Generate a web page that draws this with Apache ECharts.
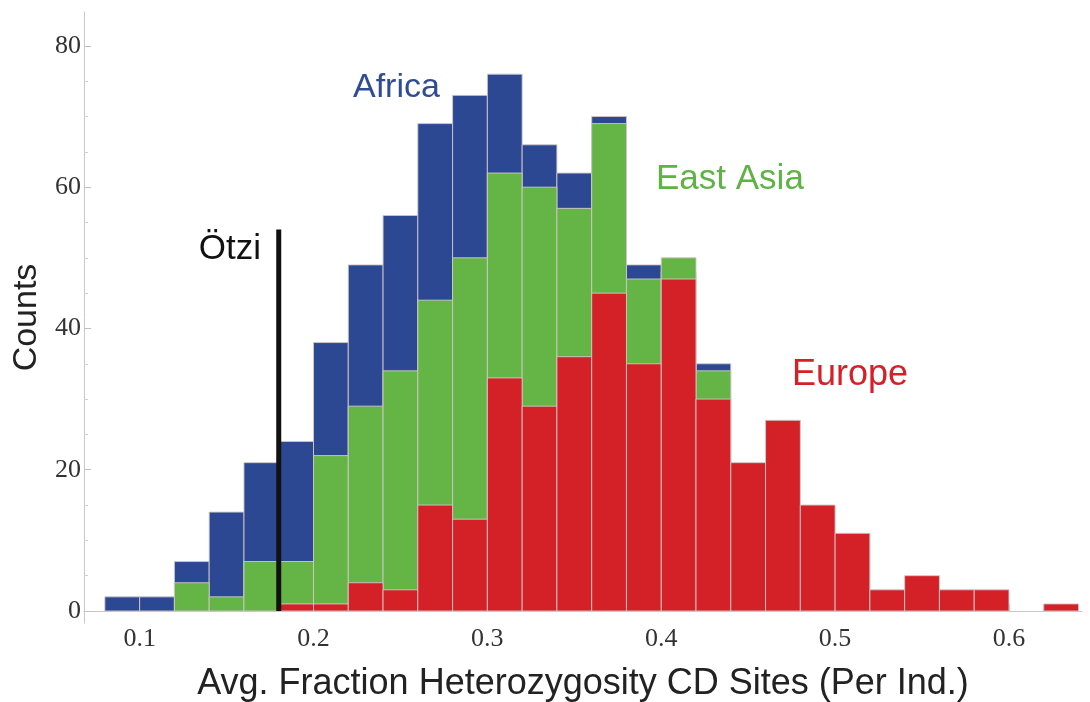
<!DOCTYPE html>
<html>
<head>
<meta charset="utf-8">
<script src="https://cdn.jsdelivr.net/npm/echarts@6/dist/echarts.min.js"></script>
<style>
  html, body { margin: 0; padding: 0; background: #fff; }
  #chart { width: 1090px; height: 702px; }
</style>
</head>
<body>
<div id="chart"></div>
<script>
// Histogram bins: left edges, width 0.02
const binStarts = [0.08, 0.10, 0.12, 0.14, 0.16, 0.18, 0.20, 0.22, 0.24, 0.26,
                   0.28, 0.30, 0.32, 0.34, 0.36, 0.38, 0.40, 0.42, 0.44, 0.46,
                   0.48, 0.50, 0.52, 0.54, 0.56, 0.58, 0.60, 0.62];
const binWidth = 0.02;

// Counts per bin for each population
const africa   = [2, 2, 7, 14, 21, 24, 38, 49, 56, 69, 73, 76, 66, 62, 70, 49, 48, 35,
                  0, 0, 0, 0, 0, 0, 0, 0, 0, 0];
const eastAsia = [0, 0, 4, 2, 7, 7, 22, 29, 34, 44, 50, 62, 60, 57, 69, 47, 50, 34,
                  0, 0, 0, 0, 0, 0, 0, 0, 0, 0];
const europe   = [0, 0, 0, 0, 0, 1, 1, 4, 3, 15, 13, 33, 29, 36, 45, 35, 47, 30,
                  21, 27, 15, 11, 3, 5, 3, 3, 0, 1];

// Ötzi's value
const otziX = 0.18;
const otziTop = 54;

const xTicks = [0.1, 0.2, 0.3, 0.4, 0.5, 0.6];
const xMinorTicks = [0.08, 0.12, 0.14, 0.16, 0.18, 0.22, 0.24, 0.26, 0.28, 0.32, 0.34, 0.36, 0.38,
                     0.42, 0.44, 0.46, 0.48, 0.52, 0.54, 0.56, 0.58, 0.62, 0.64];
const yTicks = [0, 20, 40, 60, 80];
const yMinorTicks = [5, 10, 15, 25, 30, 35, 45, 50, 55, 65, 70, 75];

const colors = { africa: '#2c4893', eastAsia: '#64b446', europe: '#d42128' };

function toBins(counts) {
  return binStarts.map((x0, i) => [x0, x0 + binWidth, counts[i]]);
}

function renderBin(params, api) {
  const v = api.value(2);
  if (!v) return null;
  const p0 = api.coord([api.value(0), v]);
  const p1 = api.coord([api.value(1), 0]);
  return {
    type: 'rect',
    shape: { x: p0[0], y: p0[1], width: p1[0] - p0[0], height: p1[1] - p0[1] },
    style: { fill: api.visual('color'), stroke: 'rgba(210,200,200,0.9)', lineWidth: 1 }
  };
}

const chart = echarts.init(document.getElementById('chart'));
const labelFont = '"Liberation Sans", Arial, sans-serif';
const tickFont = '"Liberation Serif", "Times New Roman", serif';

chart.setOption({
  animation: false,
  grid: { left: 84, right: 8, top: 12, bottom: 79, containLabel: false, outerBoundsMode: 'none' },
  xAxis: [{
    type: 'value', min: 0.068, max: 0.642,
    axisLine: { show: true, lineStyle: { color: '#c8c8c8', width: 1 } },
    axisTick: { show: true, inside: true, length: 7, lineStyle: { color: '#c0c0c0' }, customValues: xTicks },
    axisLabel: { customValues: xTicks, color: '#333', fontFamily: tickFont, fontSize: 26, margin: 3,
                 formatter: v => String(Math.round(v * 10) / 10) },
    splitLine: { show: false },
    name: 'Avg. Fraction Heterozygosity CD Sites (Per Ind.)',
    nameLocation: 'middle', nameGap: 43,
    nameTextStyle: { fontFamily: labelFont, fontSize: 36, color: '#222' }
  }, {
    type: 'value', min: 0.068, max: 0.642, position: 'bottom',
    axisLine: { show: false },
    axisTick: { show: true, inside: true, length: 4, lineStyle: { color: '#d0d0d0' }, customValues: xMinorTicks },
    axisLabel: { show: false },
    splitLine: { show: false }
  }],
  yAxis: [{
    type: 'value', min: -1.7, max: 84.8,
    axisLine: { show: true, lineStyle: { color: '#c8c8c8', width: 1 } },
    axisTick: { show: true, inside: true, length: 7, lineStyle: { color: '#c0c0c0' }, customValues: yTicks },
    axisLabel: { customValues: yTicks, color: '#333', fontFamily: tickFont, fontSize: 26, margin: 3 },
    splitLine: { show: false },
    name: 'Counts', nameLocation: 'middle', nameGap: 36, nameRotate: 90,
    nameTextStyle: { fontFamily: labelFont, fontSize: 34, color: '#222' }
  }, {
    type: 'value', min: -1.7, max: 84.8, position: 'left',
    axisLine: { show: false },
    axisTick: { show: true, inside: true, length: 4, lineStyle: { color: '#d0d0d0' }, customValues: yMinorTicks },
    axisLabel: { show: false },
    splitLine: { show: false }
  }],
  series: [
    { name: 'Africa', type: 'custom', renderItem: renderBin, itemStyle: { color: colors.africa },
      encode: { x: [0, 1], y: 2 }, data: toBins(africa) },
    { name: 'East Asia', type: 'custom', renderItem: renderBin, itemStyle: { color: colors.eastAsia },
      encode: { x: [0, 1], y: 2 }, data: toBins(eastAsia) },
    { name: 'Europe', type: 'custom', renderItem: renderBin, itemStyle: { color: colors.europe },
      encode: { x: [0, 1], y: 2 }, data: toBins(europe) },
    { name: 'Ötzi', type: 'line', symbol: 'none', z: 10,
      lineStyle: { color: '#111', width: 5 },
      data: [[otziX, 0], [otziX, otziTop]] }
  ],
  graphic: [
    { type: 'text', x: 353, y: 88, style: { text: 'Africa', fill: '#2f4c96', font: '34px ' + labelFont, verticalAlign: 'middle' } },
    { type: 'text', x: 656, y: 179, style: { text: 'East Asia', fill: '#5fb245', font: '35px ' + labelFont, verticalAlign: 'middle' } },
    { type: 'text', x: 792, y: 375, style: { text: 'Europe', fill: '#d42128', font: '36px ' + labelFont, verticalAlign: 'middle' } },
    { type: 'text', x: 261, y: 249, style: { text: 'Ötzi', fill: '#111', font: '35px ' + labelFont, align: 'right', verticalAlign: 'middle' } }
  ]
});
</script>
</body>
</html>
